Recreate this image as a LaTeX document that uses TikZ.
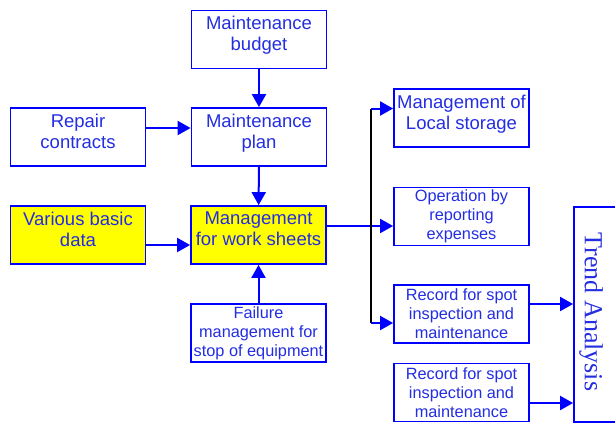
\documentclass[tikz,border=0pt]{standalone}
\usepackage{fontspec}
\setmainfont{Liberation Sans}
\newfontfamily\trendfont{Liberation Serif}
\usepackage{xcolor}
\definecolor{boxblue}{RGB}{0,0,255}
\definecolor{txtblue}{RGB}{35,45,225}
\definecolor{boxyellow}{RGB}{255,255,0}
\usetikzlibrary{positioning, arrows.meta}

\begin{document}
\begin{tikzpicture}[
    % GLOBAL CFG
    x=1pt, y=-1pt,
    >={Triangle[length=13pt,width=14pt]},
    % Styles
    base box/.style={% Common look of all boxes
        rectangle,
        draw=boxblue,
        line width=1.8pt,
        text=txtblue,
        align=center,
        inner sep=1pt,
        minimum width=135pt,
        minimum height=58pt,
        },
    step box/.style={% Boxes with two lines of text
        base box,
        text depth=12pt,
        font=\fontsize{18.5}{21}\selectfont,
        },
    small box/.style={% Boxes with three lines of text
        base box,
        font=\fontsize{16.3}{19}\selectfont,
        },
    key box/.style={% Yellow boxes
        step box,
        fill=boxyellow,
        },
    ArrowB/.style={% Blue arrows
        ->,
        boxblue,
        line width=2pt,
        },
    ]

    % Background for the margins
    \useasboundingbox (0,0) rectangle (615,424);

    % Left and middle columns
    \node [step box] (budget) at (259,39.5) {Maintenance\\budget};
    \node [step box] (repair) at (78,137) {Repair\\contracts};
    \node [step box] (plan) at (259,137) {Maintenance\\plan};
    \node [key box] (various) at (78,235) {Various basic\\data};
    \node [key box] (sheets) at (258.5,235) {Management\\for work sheets};
    \node [small box] (failure) at (258.5,333) {Failure\\management for\\stop of equipment};

    % Right column
    \node [step box] (storage) at (461.5,118) {Management of\\Local storage};
    \node [small box] (operation) at (461.5,216.5) {Operation by\\reporting\\expenses};
    \node [small box] (record1) at (461.5,314) {Record for spot\\inspection and\\maintenance};
    \node [small box] (record2) at (461.5,392.5) {Record for spot\\inspection and\\maintenance};

    % Trend box
    \node [rectangle, draw=boxblue, line width=1.8pt, minimum width=48pt,
        minimum height=215pt, inner sep=0pt] (trend) at (598,314.5) {};
    \node [text=txtblue, rotate=-90, font=\trendfont\fontsize{26}{28}\selectfont]
        (trendtext) at (591,312) {Trend Analysis};

% Connect all.
    \draw [ArrowB] (budget) -- (plan);
    \draw [ArrowB] ([yshift=9pt]repair.east) -- ([yshift=9pt]plan.west);
    \draw [ArrowB] (plan) -- (sheets);
    \draw [ArrowB] ([yshift=-10pt]various.east) -- ([yshift=-10pt]sheets.west);
    \draw [ArrowB] (failure) -- (sheets);

    % Branch to the right column
    \coordinate (split) at (371,0);
    \coordinate (out) at ([yshift=9pt]sheets.east);
    \coordinate (top) at ([yshift=9.5pt]storage.west);
    \coordinate (bot) at ([yshift=-9pt]record1.west);
    \draw [ArrowB] (out) -- (operation.west |- out);
    \draw [black, line width=2pt] (top -| split) -- (bot -| split);
    \draw [ArrowB] (top -| split) -- (top);
    \draw [ArrowB] (bot -| split) -- (bot);

    % Outputs
    \coordinate (rec1out) at ([yshift=10pt]record1.east);
    \coordinate (rec2out) at ([yshift=-10.5pt]record2.east);
    \draw [ArrowB] (rec1out) -- (trend.west |- rec1out);
    \draw [ArrowB] (rec2out) -- (trend.west |- rec2out);

\end{tikzpicture}
\end{document}
